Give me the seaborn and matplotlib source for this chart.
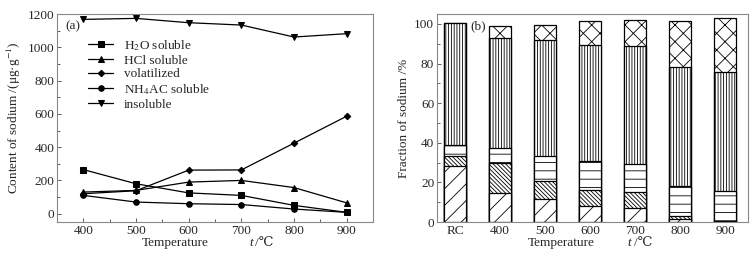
import pandas as pd
import seaborn as sns
import matplotlib.pyplot as plt
from matplotlib.ticker import MultipleLocator

# Datos (a): contenido de sodio (ug/g) vs temperatura
temps = [400, 500, 600, 700, 800, 900]
h2o = [265, 180, 125, 110, 50, 8]
hcl = [130, 140, 190, 200, 157, 65]
volatil = [120, 138, 262, 263, 424, 586]
nh4ac = [110, 70, 60, 55, 28, 8]
insol = [1168, 1174, 1148, 1134, 1062, 1082]

# Datos (b): fracciones (%) apiladas de abajo hacia arriba
cats = ["RC", "400", "500", "600", "700", "800", "900"]
f_h2o = [28.1, 14.8, 11.6, 8.2, 6.9, 1.5, 0.3]
f_hcl = [5.4, 15.0, 9.0, 8.0, 8.1, 1.5, 0.3]
f_nh4 = [5.4, 7.4, 12.9, 14.4, 14.1, 15.3, 14.9]
f_insol = [61.8, 55.6, 58.6, 59.0, 60.0, 60.1, 60.1]
f_vol = [0, 6.0, 7.6, 11.8, 12.9, 23.0, 27.4]

sns.set_style("ticks")
plt.rcParams["font.family"] = ["Liberation Serif", "DejaVu Serif"]
plt.rcParams["mathtext.fontset"] = "stix"
plt.rcParams["font.size"] = 9.5
plt.rcParams["hatch.linewidth"] = 0.6
plt.rcParams["xtick.direction"] = "in"
plt.rcParams["ytick.direction"] = "in"

fig = plt.figure(figsize=(7.56, 2.58), dpi=100)
ax1 = fig.add_axes([0.0754, 0.1395, 0.418, 0.806])
ax2 = fig.add_axes([0.578, 0.1395, 0.411, 0.806])

# --- (a) lineas ---
df = pd.DataFrame({"T": temps, "H$_2$O soluble": h2o, "HCl soluble": hcl,
                   "volatilized": volatil, "NH$_4$AC soluble": nh4ac,
                   "insoluble": insol})
markers = {"H$_2$O soluble": "s", "HCl soluble": "^", "volatilized": "D",
           "NH$_4$AC soluble": "o", "insoluble": "v"}
for name, mk in markers.items():
    sns.lineplot(data=df, x="T", y=name, ax=ax1, color="black", lw=0.9,
                 marker=mk, markersize=4 if mk != "D" else 3.3,
                 markeredgecolor="black", label=name)
ax1.set_xlim(350, 950)
ax1.set_ylim(-50, 1200)
ax1.xaxis.set_major_locator(MultipleLocator(100))
ax1.xaxis.set_minor_locator(MultipleLocator(50))
ax1.yaxis.set_major_locator(MultipleLocator(200))
ax1.yaxis.set_minor_locator(MultipleLocator(100))
ax1.set_xlabel("")
ax1.set_ylabel("Content of sodium /(μg·g$^{-1}$)", labelpad=3)
ax1.legend(loc="upper left", bbox_to_anchor=(0.098, 0.885), frameon=False,
           borderaxespad=0, borderpad=0, handlelength=1.9, handletextpad=0.8,
           labelspacing=0.12)
ax1.text(0.025, 0.94, "(a)", transform=ax1.transAxes, va="center")
ax1.text(0.269, -0.10, "Temperature", transform=ax1.transAxes, va="center")
ax1.text(0.608, -0.10, "t", style="italic", transform=ax1.transAxes, va="center")
ax1.text(0.628, -0.10, "/℃", transform=ax1.transAxes, va="center")

# --- (b) barras apiladas (acumulados, de arriba hacia abajo) ---
layers = [(f_h2o, "//"), (f_hcl, "\\\\\\\\\\\\\\\\"), (f_nh4, "--"),
          (f_insol, "||||||"), (f_vol, "xx")]
cum = []
tot = [0] * len(cats)
for vals, h in layers:
    tot = [a + b for a, b in zip(tot, vals)]
    cum.append((list(tot), h))
for vals, h in reversed(cum):
    sns.barplot(x=cats, y=vals, ax=ax2, color="white", edgecolor="black",
                linewidth=0.9, hatch=h, width=0.5, saturation=1)
ax2.set_xlim(-0.4, 6.5)
ax2.set_ylim(0, 105)
ax2.yaxis.set_major_locator(MultipleLocator(20))
ax2.yaxis.set_minor_locator(MultipleLocator(10))
ax2.set_xlabel("")
ax2.set_ylabel("Fraction of sodium /%", labelpad=3)
ax2.text(0.106, 0.94, "(b)", transform=ax2.transAxes, va="center")
ax2.text(0.293, -0.10, "Temperature", transform=ax2.transAxes, va="center")
ax2.text(0.614, -0.10, "t", style="italic", transform=ax2.transAxes, va="center")
ax2.text(0.634, -0.10, "/℃", transform=ax2.transAxes, va="center")

for ax in (ax1, ax2):
    for s in ax.spines.values():
        s.set_visible(True)
        s.set_color("#888888")
        s.set_linewidth(0.8)
    ax.tick_params(which="both", color="#444444", width=0.6, pad=2)
    ax.tick_params(which="major", length=3)
    ax.tick_params(which="minor", length=2)

fig.savefig("out.png", dpi=100)
